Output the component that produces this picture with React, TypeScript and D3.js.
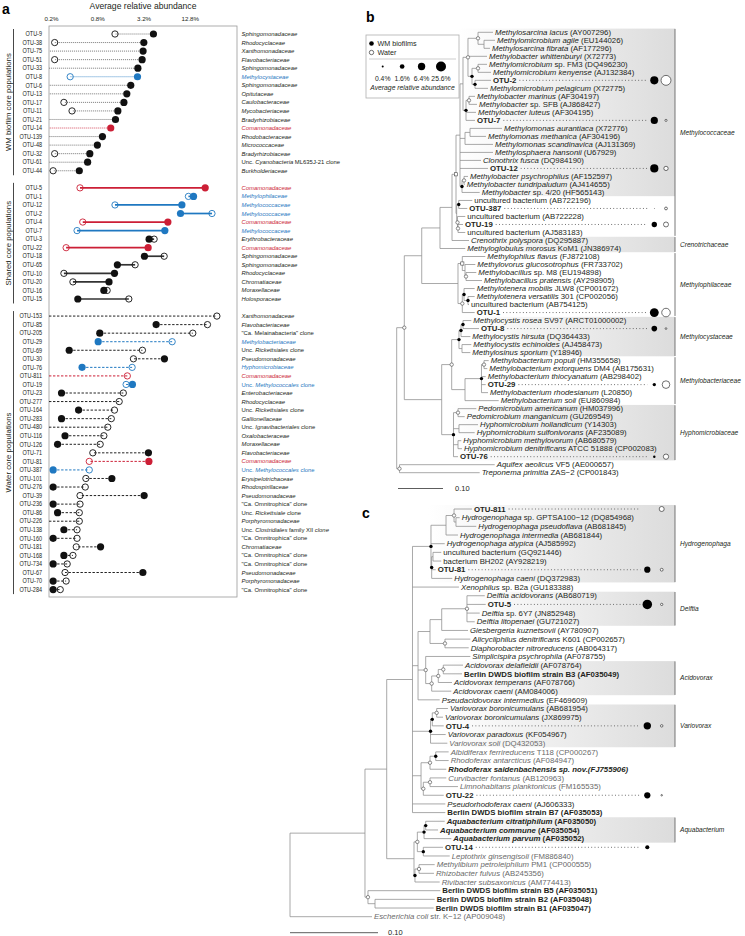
import React from 'react';
import * as d3 from 'd3';

const FONT = '"Liberation Sans", Arial, Helvetica, sans-serif';
const RED = '#cc1f36';
const BLUE = '#1f78c1';
const INK = '#231f20';

// ---------------- Panel a data (average relative abundance, %) ----------------
const wmOtu = ['OTU-9','OTU-38','OTU-75','OTU-51','OTU-33','OTU-8','OTU-6','OTU-13','OTU-17','OTU-11','OTU-21','OTU-14','OTU-139','OTU-48','OTU-32','OTU-61','OTU-44'];
const wmBiofilm = [4.24,3.18,3.11,3.02,2.66,2.63,2.15,1.91,1.75,1.46,1.36,1.18,0.92,0.79,0.63,0.59,0.46];
const wmWater = [1.34,0.22,null,0.22,null,0.35,null,null,0.29,0.37,null,null,null,null,0.22,null,0.21];
const wmFamily = ['*Sphingomonadaceae*','*Rhodocyclaceae*','*Xanthomonadaceae*','*Flavobacteriaceae*','*Sphingomonadaceae*','*Methylocystaceae*','*Sphingomonadaceae*','*Opitutaceae*','*Caulobacteraceae*','*Mycobacteriaceae*','*Bradyrhizobiaceae*','*Comamonadaceae*','*Rhodobacteraceae*','*Micrococcaceae*','*Bradyrhizobiaceae*','Unc. *Cyanobacteria* ML635J-21 clone','*Burkholderiaceae*'];
const wmColor = ['k','k','k','k','k','b','k','k','k','k','k','r','k','k','k','k','k'];

const sharedOtu = ['OTU-5','OTU-1','OTU-12','OTU-2','OTU-4','OTU-7','OTU-3','OTU-22','OTU-18','OTU-65','OTU-10','OTU-20','OTU-16','OTU-15'];
const sharedBiofilm = [20.0,14.1,9.95,9.54,6.54,5.97,3.73,3.62,3.24,1.44,1.32,1.12,0.96,0.44];
const sharedWater = [0.47,12.1,1.34,24.5,0.51,0.43,4.33,0.31,5.85,2.45,0.29,0.38,1.06,2.03];
const sharedFamily = ['*Comamonadaceae*','*Methylophilaceae*','*Methylococcaceae*','*Methylococcaceae*','*Comamonadaceae*','*Methylococcaceae*','*Erythrobacteraceae*','*Comamonadaceae*','*Sphingomonadaceae*','*Sphingomonadaceae*','*Rhodocyclaceae*','*Chromatiaceae*','*Moraxellaceae*','*Holosporaceae*'];
const sharedColor = ['r','b','b','b','r','b','k','r','k','k','k','k','k','k'];

const waterOtu = ['OTU-153','OTU-85','OTU-205','OTU-29','OTU-69','OTU-30','OTU-76','OTU-811','OTU-19','OTU-23','OTU-277','OTU-164','OTU-283','OTU-480','OTU-116','OTU-126','OTU-71','OTU-81','OTU-387','OTU-101','OTU-276','OTU-39','OTU-236','OTU-86','OTU-226','OTU-138','OTU-160','OTU-181','OTU-168','OTU-734','OTU-67','OTU-70','OTU-284'];
const waterBiofilm = [null,4.6,0.85,0.81,0.34,5.9,0.5,null,2.26,0.27,null,0.45,0.27,null,0.3,0.24,3.65,3.7,0.21,1.22,0.21,3.21,0.21,0.24,null,0.29,0.21,0.87,0.29,0.21,3.09,0.21,0.21];
const waterWater = [28.4,21.4,13.8,7.43,3.05,2.33,2.24,1.94,1.87,1.72,1.52,1.32,1.2,1.08,0.96,0.86,0.69,0.62,0.62,0.56,0.55,0.47,0.47,0.46,0.46,0.43,0.43,0.42,0.38,0.32,0.3,0.31,0.26];
const waterFamily = ['*Xanthomonadaceae*','*Flavobacteriaceae*','"Ca. Melainabacteria" clone','*Methylobacteriaceae*','Unc. *Rickettsiales* clone','*Pseudomonadaceae*','*Hyphomicrobiaceae*','*Comamonadaceae*','Unc. *Methylococcales* clone','*Enterobacteriaceae*','*Rhodocyclaceae*','Unc. *Rickettsiales* clone','*Gallionellaceae*','Unc. *Ignavibacteriales* clone','*Oxalobacteraceae*','*Moraxellaceae*','*Flavobacteriaceae*','*Comamonadaceae*','Unc. *Methylococcales* clone','*Erysipelotrichaceae*','*Rhodospirillaceae*','*Pseudomonadaceae*','"Ca. Omnitrophica" clone','Unc. *Rickettsiale* clone','*Porphyromonadaceae*','Unc. *Clostridiales* family XII *clone*','"Ca. Omnitrophica" clone','*Chromatiaceae*','"Ca. Omnitrophica" clone','"Ca. Omnitrophica" clone','*Pseudomonadaceae*','*Porphyromonadaceae*','"Ca. Omnitrophica" clone'];
const waterColor = ['k','k','k','b','k','k','b','r','b','k','k','k','k','k','k','k','k','r','b','k','k','k','k','k','k','k','k','k','k','k','k','k','k'];

const groupNames = ['WM biofilm core populations','Shared core populations','Water core populations'];
const tickValues = [0.2, 0.8, 3.2, 12.8];
const legendValues = [0.4, 1.6, 6.4, 25.6];

// ---------------- Panel b tree: [distance from root, marker, children] / [distance, label] ----------------
const treeB: any = [0, '', [
  [0.0169, 'o', [
    [0.0556, '', [
      [0.0962, '', [
        [0.1229, '', [
          [0.1318, 's', [
            [0.1407, '', [
              [0.1473, '', [
                [0.1584, 'o', [
                  [0.1807, 'o', [
                    [0.2140, '*Methylosarcina lacus* (AY007296)'],
                    [0.1940, '', [
                      [0.2184, '*Methylomicrobium agile* (EU144026)'],
                      [0.2073, '*Methylosarcina fibrata* (AF177296)'],
                    ]],
                  ]],
                  [0.2007, '*Methylobacter whittenburyi* (X72773)'],
                  [0.1673, 'f', [
                    [0.1807, 'o', [
                      [0.2007, '*Methylomicrobium* sp. FM3 (DQ496230)'],
                      [0.2096, '*Methylomicrobium kenyense* (AJ132384)'],
                    ]],
                    [0.1740, 'f', [
                      [0.2096, '!OTU-2'],
                      [0.2029, '*Methylomicrobium pelagicum* (X72775)'],
                    ]],
                  ]],
                ]],
                [0.1540, 'f', [
                  [0.1607, 'o', [
                    [0.1740, '*Methylobacter marinus* (AF304197)'],
                    [0.1784, '*Methylobacter* sp. SFB (AJ868427)'],
                  ]],
                  [0.1762, '*Methylobacter luteus* (AF304195)'],
                  [0.1740, '!OTU-7'],
                ]],
              ]],
              [0.1518, '', [
                [0.1629, '', [
                  [0.2340, '*Methylomonas aurantiaca* (X72776)'],
                  [0.1984, '*Methylomonas methanica* (AF304196)'],
                ]],
                [0.2140, '*Methylomonas scandinavica* (AJ131369)'],
              ]],
              [0.2140, '*Methylosphaera hansonii* (U67929)'],
              [0.1873, '*Clonothrix fusca* (DQ984190)'],
              [0.2029, '!OTU-12'],
              [0.1451, 'f', [
                [0.1496, 'o', [
                  [0.1584, '*Methylobacter psychrophilus* (AF152597)'],
                  [0.1511, '*Methylobacter tundripaludum* (AJ414655)'],
                ]],
                [0.1844, '*Methylobacter* sp. 4/20 (HF565143)'],
              ]],
            ]],
            [0.1333, '', [
              [0.1378, 'f', [
                [0.1680, 'uncultured bacterium (AB722196)'],
                [0.1569, '!OTU-387'],
              ]],
              [0.1351, 'o', [
                [0.1524, 'uncultured bacterium (AB722228)'],
                [0.1362, 'o', [
                  [0.1473, '!OTU-19'],
                  [0.1524, 'uncultured bacterium (AJ583183)'],
                ]],
              ]],
            ]],
          ]],
          [0.1607, '*Crenothrix polyspora* (DQ295887)'],
        ]],
        [0.1524, '*Methyloglobulus morosus* KoM1 (JN386974)'],
      ]],
      [0.1362, '', [
        [0.1458, 's', [
          [0.1969, '*Methylophilus flavus* (FJ872108)'],
          [0.1518, '', [
            [0.1747, '*Methylovorus glucosotrophus* (FR733702)'],
            [0.1540, 'o', [
              [0.1769, '*Methylobacillus* sp. M8 (EU194898)'],
              [0.1896, '*Methylobacillus pratensis* (AY298905)'],
            ]],
          ]],
        ]],
        [0.1458, 'o', [
          [0.1496, 'f', [
            [0.1733, '*Methylotenera mobilis* JLW8 (CP001672)'],
            [0.1584, 'f', [
              [0.1733, '*Methylotenera versatilis* 301 (CP002056)'],
              [0.1607, 'uncultured bacterium (AB754125)'],
            ]],
          ]],
          [0.1733, '!OTU-1'],
        ]],
      ]],
    ]],
    [0.1000, '', [
      [0.1222, 'o', [
        [0.1384, 'f', [
          [0.1429, 'f', [
            [0.1473, 'f', [
              [0.1658, '*Methylocystis rosea* SV97 (ARCT01000002)'],
              [0.1829, '!OTU-8'],
            ]],
            [0.1636, '*Methylocystis hirsuta* (DQ364433)'],
          ]],
          [0.1451, '', [
            [0.1658, '*Methylocystis echinoides* (AJ458473)'],
            [0.1636, '*Methylosinus sporium* (Y18946)'],
          ]],
        ]],
        [0.1518, '', [
          [0.1884, 'f', [
            [0.1940, 'o', [
              [0.2044, '*Methylobacterium populi* (HM355658)'],
              [0.2013, '*Methylobacterium extorquens* DM4 (AB175631)'],
            ]],
            [0.1978, '*Methylobacterium thiocyanatum* (AB298402)'],
            [0.1978, '!OTU-29'],
            [0.2029, '*Methylobacterium rhodesianum* (L20850)'],
          ]],
          [0.2267, '*Methylobacterium soli* (EU860984)'],
        ]],
      ]],
      [0.1262, 'f', [
        [0.1362, 'o', [
          [0.1769, '*Pedomicrobium americanum* (HM037996)'],
          [0.1511, '*Pedomicrobium manganicum* (GU269549)'],
        ]],
        [0.1384, '', [
          [0.1807, '*Hyphomicrobium hollandicum* (Y14303)'],
          [0.1733, '*Hyphomicrobium sulfonivorans* (AF235089)'],
        ]],
        [0.1362, '', [
          [0.1436, '*Hyphomicrobium methylovorum* (AB680579)'],
          [0.1451, '*Hyphomicrobium denitrificans* ATCC 51888 (CP002083)'],
        ]],
        [0.1362, '!OTU-76'],
      ]],
    ]],
  ]],
  [0.0062, 'o', [
    [0.2178, '*Aquifex aeolicus* VF5 (AE000657)'],
    [0.1844, '*Treponema primitia* ZAS\u22122 (CP001843)'],
  ]],
]];

// families: [name, first leaf row, last leaf row, shaded]
const familiesB: [string, number, number, boolean][] = [
  ['Methylococcaceae', 0, 25, false],
  ['Crenotrichaceae', 26, 27, true],
  ['Methylophilaceae', 28, 35, false],
  ['Methylocystaceae', 36, 40, true],
  ['Methylobacteriaceae', 41, 46, false],
  ['Hyphomicrobiaceae', 47, 53, true],
];
const shadeB: [number, number][] = [[0, 20], [26, 27], [36, 40], [47, 53]];

// ---------------- Panel c tree ----------------
const treeC: any = [0, '', [
  [0.0852, '', [
    [0.1099, '', [
      [0.1392, '', [
        [0.1602, 'f', [
          [0.1773, '', [
            [0.1864, 'o', [
              [0.2068, '!OTU-811'],
              [0.1886, '', [
                [0.1928, '*Hydrogenophaga* sp. GPTSA100\u221212 (DQ854968)'],
                [0.2117, '*Hydrogenophaga pseudoflava* (AB681845)'],
              ]],
            ]],
            [0.1909, '*Hydrogenophaga intermedia* (AB681844)'],
          ]],
          [0.1758, '*Hydrogenophaga atypica* (AJ585992)'],
          [0.1610, 'f', [
            [0.1625, '', [
              [0.1719, 'uncultured bacterium (GQ921446)'],
              [0.1719, 'bacterium BH202 (AY928219)'],
            ]],
            [0.1656, '!OTU-81'],
            [0.1844, '*Hydrogenophaga caeni* (DQ372983)'],
          ]],
        ]],
        [0.1920, '*Xenophilus* sp. B2a (GU183388)'],
        [0.1455, '', [
          [0.1591, '', [
            [0.1724, '', [
              [0.2011, 'o', [
                [0.2213, '*Delftia acidovorans* (AB680719)'],
                [0.2224, '!OTU-5'],
                [0.2156, '*Delftia* sp. 6Y7 (JN852948)'],
                [0.2099, '*Delftia litopenaei* (GU721027)'],
              ]],
              [0.2023, '*Giesbergeria kuznetsovii* (AY780907)'],
            ]],
            [0.1761, 'o', [
              [0.2049, '*Alicycliphilus denitrificans* K601 (CP002657)'],
              [0.2031, '*Diaphorobacter nitroreducens* (AB064317)'],
            ]],
          ]],
          [0.1542, 'o', [
            [0.2049, '*Simplicispira psychrophila* (AF078755)'],
            [0.1610, 'o', [
              [0.1685, 'o', [
                [0.1742, 'o', [
                  [0.1966, '*Acidovorax delafieldii* (AF078764)'],
                  [0.1955, '!Berlin DWDS biofilm strain B3 (AF035049)'],
                ]],
                [0.1841, '*Acidovorax temperans* (AF078766)'],
              ]],
              [0.1833, '*Acidovorax caeni* (AM084006)'],
            ]],
          ]],
          [0.1701, '*Pseudacidovorax intermedius* (EF469609)'],
        ]],
        [0.1597, 'f', [
          [0.1617, 'f', [
            [0.1667, 'o', [
              [0.1795, '*Variovorax boronicumulans* (AB681954)'],
              [0.1739, '*Variovorax boronicumulans* (JX869975)'],
            ]],
            [0.1747, '!OTU-4'],
          ]],
          [0.1769, '*Variovorax paradoxus* (KF054967)'],
          [0.1788, '~*Variovorax soli* (DQ432053)'],
        ]],
        [0.1489, '', [
          [0.1591, 'o', [
            [0.1656, 'f', [
              [0.1803, '~*Albidiferax ferrireducens* T118 (CP000267)'],
              [0.1803, '~*Rhodoferax antarcticus* (AF084947)'],
            ]],
            [0.1776, '!*Rhodoferax saidenbachensis sp. nov.(FJ755906)*'],
          ]],
          [0.1515, 'o', [
            [0.1591, 'o', [
              [0.1776, '~*Curvibacter fontanus* (AB120963)'],
              [0.1909, '~*Limnohabitans planktonicus* (FM165535)'],
            ]],
            [0.1747, '!OTU-22'],
          ]],
        ]],
        [0.1765, '*Pseudorhodoferax caeni* (AJ606333)'],
        [0.1765, '!Berlin DWDS biofilm strain B7 (AF035053)'],
      ]],
      [0.1409, '', [
        [0.1447, 'o', [
          [0.1523, 'f', [
            [0.1542, 'f', [
              [0.1758, '!*Aquabacterium citratiphilum* (AF035050)'],
              [0.1682, '!*Aquabacterium commune* (AF035054)'],
            ]],
            [0.1833, '!*Aquabacterium parvum* (AF035052)'],
          ]],
          [0.1515, 'f', [
            [0.1739, '!OTU-14'],
            [0.1815, '~*Leptothrix ginsengisoli* (FM886840)'],
          ]],
        ]],
        [0.1420, 'f', [
          [0.1466, 'o', [
            [0.1644, '~*Methylibium petroleiphilum* PM1 (CP000555)'],
            [0.1636, '~*Rhizobacter fulvus* (AB245356)'],
          ]],
          [0.1701, '~*Rivibacter subsaxonicus* (AM774413)'],
        ]],
      ]],
    ]],
    [0.0886, 'o', [
      [0.1708, '!Berlin DWDS biofilm strain B5 (AF035051)'],
      [0.0966, '', [
        [0.1644, '!Berlin DWDS biofilm strain B2 (AF035048)'],
        [0.1633, '!Berlin DWDS biofilm strain B1 (AF035047)'],
      ]],
    ]],
  ]],
  [0.0932, '~*Escherichia coli* str. K\u221212 (AP009048)'],
]];

const familiesC: [string, number, number, boolean][] = [
  ['Hydrogenophaga', 0, 8, true],
  ['Delftia', 10, 13, true],
  ['Acidovorax', 18, 21, true],
  ['Variovorax', 23, 27, true],
  ['Aquabacterium', 36, 38, true],
];

// ---------------- helpers ----------------
let _ctx: any = null;
function textWidth(s: string, font: string) {
  if (!_ctx) _ctx = document.createElement('canvas').getContext('2d');
  _ctx.font = font;
  return _ctx.measureText(s).width;
}

function parseLabel(label: string) {
  let t = label, bold = false, gray = false;
  while (t[0] === '!' || t[0] === '~') {
    if (t[0] === '!') bold = true; else gray = true;
    t = t.slice(1);
  }
  return { t, bold, gray, parts: t.split('*') };
}

function Rich({ label, x, y, size, fill, anchor, weight }: any) {
  const p = parseLabel(label);
  return (
    <text x={x} y={y} dy="0.35em" fontSize={size} textAnchor={anchor || 'start'}
      fontWeight={p.bold || weight === 'bold' ? 'bold' : 'normal'}
      fill={fill || (p.gray ? '#6a6a6a' : INK)}>
      {p.parts.map((s, i) => s ? <tspan key={i} fontStyle={i % 2 === 1 ? 'italic' : 'normal'}>{s}</tspan> : null)}
    </text>
  );
}

const colorOf = (c: string) => (c === 'r' ? RED : c === 'b' ? BLUE : '#111');

const allOtu = [...wmOtu, ...sharedOtu, ...waterOtu];
const allBio = [...wmBiofilm, ...sharedBiofilm, ...waterBiofilm];
const allWat = [...wmWater, ...sharedWater, ...waterWater];
function lookup(id: string) {
  const i = allOtu.indexOf(id);
  return { bio: allBio[i], wat: allWat[i] };
}

const rSize = d3.scaleLog().domain([0.4, 25.6]).range([1, 5]);

// ---------------- Panel A ----------------
function PanelA() {
  const boxL = 49, boxR = 237, boxT = 26, boxB = 597;
  const x = d3.scaleLog().domain([0.2, 12.8]).range([51.5, 190.3]);
  const y = d3.scaleLinear().domain([0, 65]).range([34, 589.6]);
  const groups = [
    { otu: wmOtu, bio: wmBiofilm, wat: wmWater, fam: wmFamily, col: wmColor, start: 0, style: 'dot' },
    { otu: sharedOtu, bio: sharedBiofilm, wat: sharedWater, fam: sharedFamily, col: sharedColor, start: 18, style: 'solid' },
    { otu: waterOtu, bio: waterBiofilm, wat: waterWater, fam: waterFamily, col: waterColor, start: 33, style: 'dash' },
  ];
  const r = 3.6;
  return (
    <g>
      <text x={2} y={14} fontSize={14} fontWeight="bold" fill="#000">a</text>
      <text x={143} y={9} fontSize={8.6} textAnchor="middle" fill={INK}>Average relative abundance</text>
      {tickValues.map(t => (
        <text key={t} x={x(t)} y={20.5} fontSize={6.2} textAnchor="middle" fill={INK}>{`${t}%`}</text>
      ))}
      <rect x={boxL} y={boxT} width={boxR - boxL} height={boxB - boxT} fill="none" stroke="#9a9a9a" strokeWidth={0.8} />
      {groups.map((g, gi) => {
        const y0 = y(g.start) - 5, y1 = y(g.start + g.otu.length - 1) + 4.5;
        return (
          <g key={gi}>
            <line x1={13.5} x2={13.5} y1={y0} y2={y1} stroke="#333" strokeWidth={0.9} />
            <text transform={`translate(10.5,${(y0 + y1) / 2}) rotate(-90)`} fontSize={7.8} textAnchor="middle" fill={INK}>{groupNames[gi]}</text>
            {g.otu.map((id, i) => {
              const yy = y(g.start + i);
              const b = g.bio[i], w = g.wat[i];
              const xb = b != null ? x(b) : boxL;
              const xw = w != null ? x(w) : boxL;
              const c = g.col[i];
              const col = colorOf(c);
              const lineCol = c === 'k' ? (g.style === 'dot' ? '#555' : g.style === 'solid' ? '#333' : '#222') : col;
              const dash = g.style === 'dot' ? '1 1' : g.style === 'dash' ? '2.4 1.6' : undefined;
              const sw = g.style === 'solid' ? 1.7 : g.style === 'dash' ? 1 : 0.8;
              return (
                <g key={id}>
                  <text transform={`translate(42,${yy}) scale(0.86,1)`} dy="0.35em" fontSize={6.4} textAnchor="end" fill={INK}>{id}</text>
                  <line x1={xb} x2={xw} y1={yy} y2={yy} stroke={lineCol} strokeWidth={sw} strokeDasharray={dash} />
                  {w != null && <circle cx={xw} cy={yy} r={r - 0.45} fill="none" stroke={col} strokeWidth={0.9} />}
                  {b != null && <circle cx={xb} cy={yy} r={r} fill={col} />}
                  <Rich label={g.fam[i]} x={241.5} y={yy} size={5.9} fill={c === 'k' ? INK : col} />
                </g>
              );
            })}
          </g>
        );
      })}
    </g>
  );
}

// ---------------- Trees ----------------
function Tree({ data, x0, pxPerTenth, y0, y1, families, shades, filledX, openX, fontSize }: any) {
  const xs = d3.scaleLinear().domain([0, 0.1]).range([x0, x0 + pxPerTenth]);
  const root: any = d3.hierarchy(data, (d: any) => (d.length === 3 ? d[2] : undefined));
  const leaves = root.leaves();
  const ys = d3.scaleLinear().domain([0, leaves.length - 1]).range([y0, y1]);
  leaves.forEach((l: any, i: number) => { l.py = ys(i); });
  root.eachAfter((n: any) => {
    n.px = xs(n.data[0]);
    if (n.children) n.py = (n.children[0].py + n.children[n.children.length - 1].py) / 2;
  });
  const nodes = root.descendants();
  const bracketX = 675;
  const lineCol = '#8c8c8c';
  const rowH = ys(1) - ys(0);
  return (
    <g>
      {(shades || families.filter((f: any) => f[3]).map((f: any) => [f[1], f[2]])).map((s: any, i: number) => {
        const ls = leaves.slice(s[0], s[1] + 1);
        const left = d3.min(ls, (l: any) => l.px) - 8;
        const top = ys(s[0]) - rowH / 2 + 0.3, bot = ys(s[1]) + rowH / 2 - 0.3;
        return <rect key={i} x={left} y={top} width={bracketX - left} height={bot - top} fill="url(#shade)" />;
      })}
      {nodes.map((n: any, i: number) => (
        <g key={i}>
          {n.parent && <line x1={n.parent.px} x2={n.px} y1={n.py} y2={n.py} stroke={lineCol} strokeWidth={0.75} />}
          {n.children && <line x1={n.px} x2={n.px} y1={n.children[0].py} y2={n.children[n.children.length - 1].py} stroke={lineCol} strokeWidth={0.75} />}
        </g>
      ))}
      {nodes.filter((n: any) => n.children && n.data[1]).map((n: any, i: number) => {
        const m = n.data[1];
        if (m === 's') return <rect key={i} x={n.px - 1.6} y={n.py - 1.6} width={3.2} height={3.2} fill="#fff" stroke="#444" strokeWidth={0.6} />;
        return <circle key={i} cx={n.px} cy={n.py} r={1.7} fill={m === 'f' ? '#000' : '#fff'} stroke={m === 'f' ? 'none' : '#444'} strokeWidth={0.6} />;
      })}
      {leaves.map((l: any, i: number) => {
        const label = l.data[1];
        const p = parseLabel(label);
        const isOtu = p.t.startsWith('OTU-');
        const tx = l.px + 2;
        let extra = null;
        if (isOtu) {
          const v = lookup(p.t);
          const w = textWidth(p.t, `bold ${fontSize}px "Liberation Sans"`);
          extra = (
            <g>
              <line x1={tx + w + 3} x2={filledX - 7} y1={l.py} y2={l.py} stroke="#555" strokeWidth={0.9} strokeDasharray="0.9 2.4" />
              {v.bio != null && <circle cx={filledX} cy={l.py} r={rSize(v.bio)} fill="#000" />}
              {v.wat != null && <circle cx={openX} cy={l.py} r={Math.max(0.5, rSize(v.wat))} fill="#fff" stroke="#333" strokeWidth={0.7} />}
            </g>
          );
        }
        return (
          <g key={i}>
            <Rich label={label} x={tx} y={l.py} size={fontSize} />
            {extra}
          </g>
        );
      })}
      {families.map((f: any, i: number) => {
        const top = ys(f[1]) - rowH / 2 + 0.6, bot = ys(f[2]) + rowH / 2 - 0.6;
        return (
          <g key={i}>
            <line x1={bracketX} x2={bracketX} y1={top} y2={bot} stroke="#555" strokeWidth={0.8} />
            <text x={bracketX + 5} y={(top + bot) / 2} dy="0.35em" fontSize={6.6} fontStyle="italic" fill={INK}>{f[0]}</text>
          </g>
        );
      })}
    </g>
  );
}

function Legend() {
  const lx = d3.scalePoint<number>().domain(legendValues).range([382.7, 441]);
  return (
    <g>
      <rect x={366} y={35} width={93} height={63} fill="#fff" stroke="#b0b0b0" strokeWidth={0.8} />
      <circle cx={371.5} cy={43.5} r={2.3} fill="#000" />
      <text x={377.5} y={43.5} dy="0.35em" fontSize={7.2} fill={INK}>WM biofilms</text>
      <circle cx={371.5} cy={52.5} r={2.2} fill="#fff" stroke="#333" strokeWidth={0.7} />
      <text x={377.5} y={52.5} dy="0.35em" fontSize={7.2} fill={INK}>Water</text>
      <line x1={369} x2={456} y1={59} y2={59} stroke="#b8b8b8" strokeWidth={0.7} />
      {legendValues.map(v => (
        <g key={v}>
          <circle cx={lx(v)} cy={66.5} r={rSize(v)} fill="#000" />
          <text x={lx(v)} y={80.5} fontSize={6.8} textAnchor="middle" fill={INK}>{`${v}%`}</text>
        </g>
      ))}
      <text x={412.5} y={89.5} fontSize={6.8} fontStyle="italic" textAnchor="middle" fill={INK}>Average relative abundance</text>
    </g>
  );
}

export default function App() {
  return (
    <svg width={745} height={936} viewBox="0 0 745 936"
      style={{ position: 'absolute', left: 0, top: 0, display: 'block', background: '#fff' }}
      fontFamily={FONT}>
      <defs>
        <linearGradient id="shade" x1="0" x2="1" y1="0" y2="0">
          <stop offset="0" stopColor="#ffffff" />
          <stop offset="1" stopColor="#dcdcdc" />
        </linearGradient>
      </defs>
      <rect x={0} y={0} width={745} height={936} fill="#fff" />
      <PanelA />
      <text x={366} y={22} fontSize={14} fontWeight="bold" fill="#000">b</text>
      <Tree data={treeB} x0={396.7} pxPerTenth={45} y0={32.3} y1={472.7}
        families={familiesB} shades={shadeB} filledX={654.3} openX={666} fontSize={7.8} />
      <Legend />
      <line x1={398} x2={443} y1={488.5} y2={488.5} stroke="#333" strokeWidth={0.8} />
      <text x={455} y={488.5} dy="0.35em" fontSize={7.5} fill={INK}>0.10</text>
      <text x={362} y={518} fontSize={14} fontWeight="bold" fill="#000">c</text>
      <Tree data={treeC} x0={290} pxPerTenth={88} y0={509} y1={916.7}
        families={familiesC} filledX={647.3} openX={661.7} fontSize={7.8} />
      <line x1={290} x2={378} y1={932.7} y2={932.7} stroke="#333" strokeWidth={0.8} />
      <text x={388} y={932.7} dy="0.35em" fontSize={7.5} fill={INK}>0.10</text>
    </svg>
  );
}
